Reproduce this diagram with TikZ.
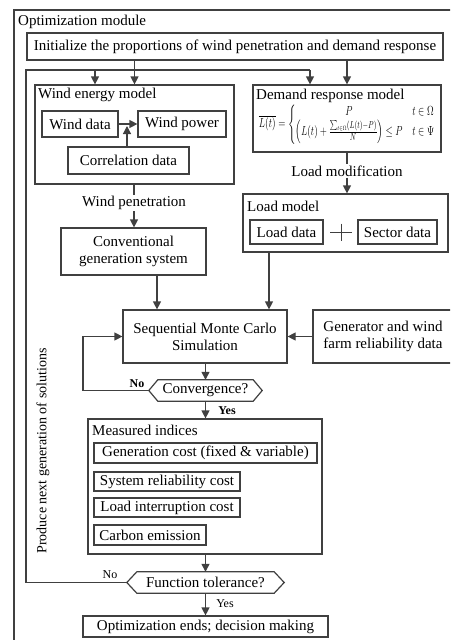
\documentclass[tikz,border=0pt]{standalone}
\usepackage{amsmath}
\usepackage{fontspec}
\setmainfont{Liberation Serif}
\usepackage{graphicx}
\usetikzlibrary{arrows.meta}
\definecolor{lc}{HTML}{404040}
\begin{document}
\begin{tikzpicture}[x=1pt,y=-1pt,
  every node/.style={font=\fontsize{15}{17}\selectfont},
  box/.style={draw=lc,line width=1.2pt,inner sep=0pt,align=center},
  ttl/.style={anchor=west,inner sep=0pt},
  arr/.style={draw=lc,line width=1.2pt,-{Triangle[length=8pt,width=8pt]}},
  lnk/.style={draw=lc,line width=1.2pt},
  small/.style={font=\fontsize{12}{14}\selectfont},
  hexa/.style={inner sep=0pt}
]
\useasboundingbox (0,0) rectangle (450,640);
\clip (0,0) rectangle (450,640);
% outer frame
\draw[lnk] (14,10) rectangle (480,680);
\node[ttl] (optt) at (18,22) {Optimization module};
\node[box,minimum width=416pt,minimum height=27pt] (init) at (235,46.5) {Initialize the proportions of wind penetration and demand response};

% wind energy model
\node[box,minimum width=199pt,minimum height=99pt] (wind) at (134.5,134.5) {};
\node[ttl] (windt) at (38,95) {Wind energy model};
\node[box,minimum width=76pt,minimum height=26pt] (winddata) at (80,124) {Wind data};
\node[box,minimum width=88pt,minimum height=26pt] (windpower) at (182,124) {Wind power};
\node[box,minimum width=121pt,minimum height=27pt] (corr) at (128.5,160.5) {Correlation data};
\coordinate (meet) at (127,126);
\node[inner sep=1pt] (windpen) at (134,203) {Wind penetration};
\node[box,minimum width=145pt,minimum height=47pt] (conv) at (133.5,251.5) {Conventional\\generation system};

% demand response
\node[box,minimum width=188pt,minimum height=67pt] (dr) at (347,118.5) {};
\node[ttl] (drt) at (256,95.5) {Demand response model};
\node[inner sep=0pt] (formula) at (347,124.5) {\resizebox{176pt}{23pt}{$\overline{L(t)}=\left\{\begin{array}{@{}c@{\quad}l@{}} P & t\in\Omega\\ \left(L(t)+\frac{\sum_{t\in\Omega}(L(t)-P)}{N}\right)\le P & t\in\Psi\end{array}\right.$}};
\node[inner sep=1pt] (loadmod) at (347,171) {Load modification};

% load model
\node[box,minimum width=205pt,minimum height=58pt] (load) at (345.5,223) {};
\node[ttl] (loadt) at (247,206) {Load model};
\node[box,minimum width=73pt,minimum height=24pt] (loaddata) at (286.5,232) {Load data};
\node[box,minimum width=79pt,minimum height=24pt] (sector) at (397.5,232) {Sector data};
\draw[draw=lc,line width=1pt] (330,232) -- (352,232) (341,223.5) -- (341,241);

% simulation
\node[box,minimum width=164pt,minimum height=53pt] (smc) at (205,336.5) {Sequential Monte Carlo\\Simulation};
\node[box,minimum width=140pt,minimum height=53pt] (gen) at (383,336.5) {Generator and wind\\farm reliability data};

% convergence
\node[hexa,minimum width=113pt,minimum height=21pt] (convg) at (205.5,390.5) {Convergence?};
\draw[lnk] (convg.west) -- ([xshift=9pt]convg.north west) -- ([xshift=-9pt]convg.north east) -- (convg.east) -- ([xshift=-9pt]convg.south east) -- ([xshift=9pt]convg.south west) -- cycle;
\node[small,font=\fontsize{12}{14}\selectfont\bfseries,inner sep=0pt] (no1) at (137,384) {No};
\node[small,font=\fontsize{12}{14}\selectfont\bfseries,inner sep=0pt] (yes1) at (227,411) {Yes};

% measured indices
\node[box,minimum width=234pt,minimum height=135pt] (meas) at (205,486.5) {};
\node[ttl] (meast) at (92,430) {Measured indices};
\node[box,line width=1.5pt,minimum width=223pt,minimum height=20pt] (gcost) at (205.5,453) {Generation cost (fixed \& variable)};
\node[box,line width=1.5pt,minimum width=146pt,minimum height=19pt] (sysrel) at (167,481.5) {System reliability cost};
\node[box,line width=1.5pt,minimum width=146pt,minimum height=19pt] (loadint) at (167,507.5) {Load interruption cost};
\node[box,line width=1.5pt,minimum width=112pt,minimum height=20pt] (carbon) at (150,535) {Carbon emission};

% function tolerance
\node[hexa,minimum width=157pt,minimum height=21pt] (ftol) at (205.5,582.5) {Function tolerance?};
\draw[lnk] (ftol.west) -- ([xshift=10pt]ftol.north west) -- ([xshift=-10pt]ftol.north east) -- (ftol.east) -- ([xshift=-10pt]ftol.south east) -- ([xshift=10pt]ftol.south west) -- cycle;
\node[small,inner sep=0pt] (no2) at (110,575) {No};
\node[small,inner sep=0pt] (yes2) at (225,604) {Yes};
\node[box,minimum width=245pt,minimum height=21pt] (final) at (205.5,626.5) {Optimization ends; decision making};

\node[rotate=90,font=\fontsize{14}{16}\selectfont,inner sep=0pt] (prod) at (43,451) {Produce next generation of solutions};

% connectors
\coordinate (loopL) at (26,582.5);
\coordinate (loopT) at (26,70);
\coordinate (loopW) at (95,70);
\coordinate (loopR) at (310,70);
\coordinate (convL) at (83,390.5);
\coordinate (c1) at ([xshift=23.5pt]conv.south);
\coordinate (c2) at ([xshift=-76.5pt]load.south);

\draw[arr] (init.south -| wind.north) -- (wind.north);
\draw[arr] (init.south -| dr.north) -- (dr.north);
\draw[lnk] (ftol.west) -- (loopL) -- (loopT) -- (loopR);
\draw[arr] (loopW) -- (loopW |- wind.north);
\draw[arr] (loopR) -- (loopR |- dr.north);
\draw[arr] (winddata) -- (windpower);
\draw[arr] (corr.north -| meet) -- (meet);
\draw[lnk] (wind.south -| windpen) -- (windpen.north);
\draw[arr] (windpen.south) -- (windpen.south |- conv.north);
\draw[lnk] (dr.south) -- (loadmod.north);
\draw[arr] (loadmod.south) -- (loadmod.south |- load.north);
\draw[arr] (c1) -- (c1 |- smc.north);
\draw[arr] (c2) -- (c2 |- smc.north);
\draw[arr] (gen.west) -- (smc.east);
\draw[arr] (smc.south -| convg.north) -- (convg.north);
\draw[arr] (convg.west) -- (convL) |- (smc.west);
\draw[arr] (convg.south) -- (convg.south |- meas.north);
\draw[arr] (meas.south -| ftol.north) -- (ftol.north);
\draw[arr] (ftol.south) -- (ftol.south |- final.north);
\end{tikzpicture}
\end{document}
